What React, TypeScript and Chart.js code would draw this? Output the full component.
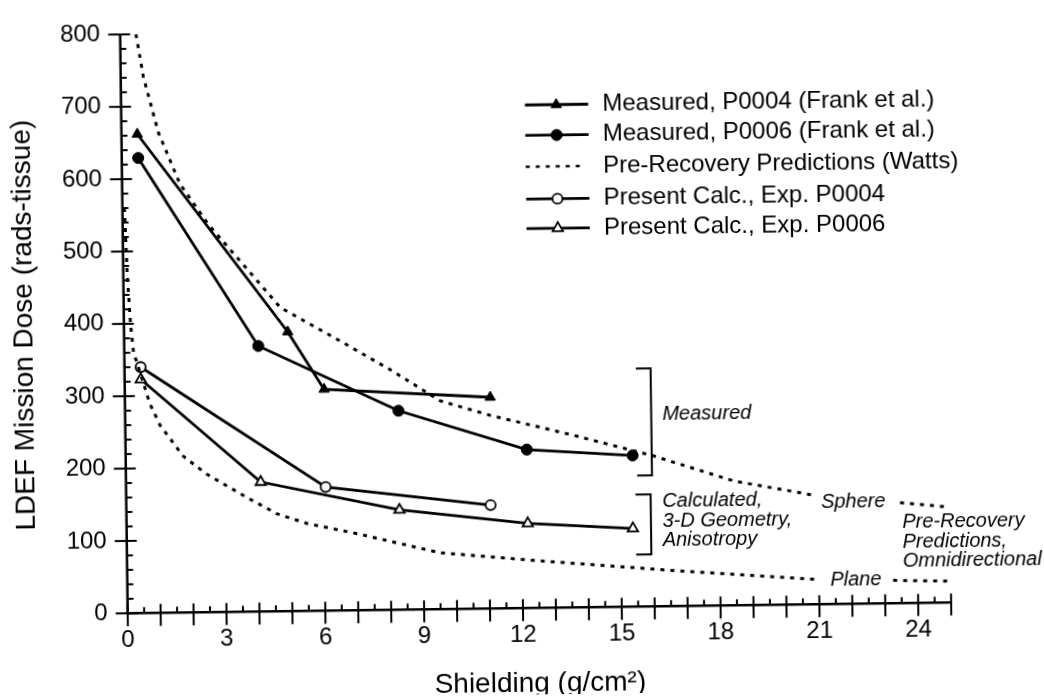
import React, { useEffect, useRef } from 'react';
import { Chart, registerables } from 'chart.js';

Chart.register(...registerables);

// ---- Data ----
const measP0004X = [0.48, 4.97, 6.05, 11.09];
const measP0004Y = [662, 386, 306, 292];

const measP0006X = [0.5, 4.07, 8.3, 12.18, 15.39];
const measP0006Y = [629, 367, 275, 219, 209];

const calcP0004X = [0.49, 6.06, 11.06];
const calcP0004Y = [340, 171, 143];

const calcP0006X = [0.49, 4.09, 8.29, 12.18, 15.37];
const calcP0006Y = [323, 179, 138, 117, 108];

// Pre-recovery predictions (Watts), sphere and plane; null = gap for the curve label
const sphereX = [0.48, 0.69, 1.12, 1.76, 2.6, 3.4, 4.75, 6.35, 8.06, 9.57, 11.08, 13.6, 16.02, 18.44, 20.96, 22.2, 23.49, 24.95];
const sphereY = [800, 741, 664, 592, 536, 493, 420, 378, 332, 288, 267, 238, 208, 172, 150, null, 139, 132];

const planeX = [0.06, 0.12, 0.2, 0.28, 0.76, 1.06, 1.75, 2.45, 3.66, 4.56, 5.47, 7.08, 9.5, 12.54, 16.38, 21.03, 22.2, 23.25, 24.98];
const planeY = [560, 470, 400, 361, 289, 259, 216, 191, 158, 135, 121, 105, 78, 65, 50, 34, null, 31.7, 29.5];

const xTickValues = [0, 3, 6, 9, 12, 15, 18, 21, 24];
const yTickValues = [0, 100, 200, 300, 400, 500, 600, 700, 800];

const legendLabels = [
  'Measured, P0004 (Frank et al.)',
  'Measured, P0006 (Frank et al.)',
  'Pre-Recovery Predictions (Watts)',
  'Present Calc., Exp. P0004',
  'Present Calc., Exp. P0006',
];

const xTitle = 'Shielding (g/cm\u00B2)';
const yTitle = 'LDEF Mission Dose (rads-tissue)';

const measuredNote = 'Measured';
const calculatedNote = ['Calculated,', '3-D Geometry,', 'Anisotropy'];
const sphereNote = 'Sphere';
const planeNote = 'Plane';
const predictionNote = ['Pre-Recovery', 'Predictions,', 'Omnidirectional'];

const FONT = '"Liberation Sans", Arial, Helvetica, sans-serif';

const toPoints = (xs: number[], ys: (number | null)[]) => xs.map((x, i) => ({ x, y: ys[i] }));

function drawTriangle(ctx: CanvasRenderingContext2D, cx: number, cy: number, r: number, filled: boolean) {
  ctx.beginPath();
  for (let k = 0; k < 3; k++) {
    const a = -Math.PI / 2 + (k * 2 * Math.PI) / 3;
    const px = cx + r * Math.cos(a);
    const py = cy + r * Math.sin(a);
    if (k === 0) ctx.moveTo(px, py);
    else ctx.lineTo(px, py);
  }
  ctx.closePath();
  ctx.fillStyle = filled ? '#000' : '#fff';
  ctx.fill();
  ctx.lineWidth = filled ? 1 : 1.8;
  ctx.stroke();
}

function drawCircle(ctx: CanvasRenderingContext2D, cx: number, cy: number, r: number, filled: boolean) {
  ctx.beginPath();
  ctx.arc(cx, cy, r, 0, Math.PI * 2);
  ctx.fillStyle = filled ? '#000' : '#fff';
  ctx.fill();
  ctx.lineWidth = filled ? 1 : 1.8;
  ctx.stroke();
}

const overlayPlugin = {
  id: 'overlay',
  afterDraw(chart: any) {
    const { ctx } = chart;
    const xs = chart.scales.x;
    const ys = chart.scales.y;
    const px = (v: number) => xs.getPixelForValue(v);
    const py = (v: number) => ys.getPixelForValue(v);
    ctx.save();
    ctx.strokeStyle = '#000';
    ctx.fillStyle = '#000';
    ctx.lineCap = 'butt';

    // axes
    ctx.lineWidth = 2.5;
    ctx.beginPath();
    ctx.moveTo(px(0), py(0));
    ctx.lineTo(px(25), py(0));
    ctx.moveTo(px(0), py(0));
    ctx.lineTo(px(0), py(800));
    ctx.stroke();

    // x ticks
    ctx.lineWidth = 2;
    for (let i = 0; i <= 50; i++) {
      const v = i / 2;
      const X = px(v);
      const Y = py(0);
      ctx.beginPath();
      if (i % 2 === 0) {
        ctx.moveTo(X, Y - 9);
        ctx.lineTo(X, Y + 13);
      } else {
        ctx.moveTo(X, Y - 6);
        ctx.lineTo(X, Y);
      }
      ctx.stroke();
    }
    // y ticks
    for (let v = 0; v <= 800; v += 20) {
      const X = px(0);
      const Y = py(v);
      ctx.beginPath();
      if (v % 100 === 0) {
        ctx.moveTo(X - 12, Y);
        ctx.lineTo(X + 10, Y);
      } else {
        ctx.moveTo(X, Y);
        ctx.lineTo(X + 6, Y);
      }
      ctx.stroke();
    }

    // legend
    const lx0 = px(12.26);
    const lx1 = px(14.18);
    const lmx = px(13.21);
    const ltx = px(14.61);
    const rowY = [695.2, 653.2, 609.8, 565, 524.3].map((v) => py(v));
    ctx.font = `24px ${FONT}`;
    ctx.textBaseline = 'middle';
    ctx.textAlign = 'left';
    rowY.forEach((Y, i) => {
      ctx.strokeStyle = '#000';
      if (i === 2) {
        ctx.lineWidth = 2.5;
        ctx.setLineDash([4, 6]);
        ctx.beginPath();
        ctx.moveTo(lx0, Y);
        ctx.lineTo(lx1 - 6, Y);
        ctx.stroke();
        ctx.setLineDash([]);
      } else {
        ctx.lineWidth = 2.8;
        ctx.beginPath();
        ctx.moveTo(lx0, Y);
        ctx.lineTo(lx1, Y);
        ctx.stroke();
        if (i === 0) drawTriangle(ctx, lmx, Y, 6, true);
        if (i === 1) drawCircle(ctx, lmx, Y, 5.5, true);
        if (i === 3) drawCircle(ctx, lmx, Y, 5, false);
        if (i === 4) drawTriangle(ctx, lmx, Y, 6, false);
      }
      ctx.fillStyle = '#000';
      ctx.fillText(legendLabels[i], ltx, Y);
    });

    // brackets
    ctx.strokeStyle = '#000';
    ctx.lineWidth = 2;
    const bracket = (xl: number, xr: number, yt: number, yb: number) => {
      ctx.beginPath();
      ctx.moveTo(px(xl), py(yt));
      ctx.lineTo(px(xr), py(yt));
      ctx.lineTo(px(xr), py(yb));
      ctx.lineTo(px(xl), py(yb));
      ctx.stroke();
    };
    bracket(15.52, 15.97, 329, 181);
    bracket(15.46, 15.92, 155, 72);

    ctx.fillStyle = '#000';
    ctx.font = `italic 20px ${FONT}`;
    ctx.textAlign = 'left';
    ctx.textBaseline = 'middle';
    ctx.fillText(measuredNote, px(16.31), py(265.5));
    [145.5, 117, 91.6].forEach((v, i) => ctx.fillText(calculatedNote[i], px(16.27), py(v)));
    ctx.fillText(sphereNote, px(21.09), py(141.4));
    ctx.fillText(planeNote, px(21.34), py(32.8));
    [111.9, 84.7, 57.6].forEach((v, i) => ctx.fillText(predictionNote[i], px(23.55), py(v)));

    ctx.restore();
  },
};

export default function App() {
  const canvasRef = useRef<HTMLCanvasElement | null>(null);

  useEffect(() => {
    if (!canvasRef.current) return;
    const dotted = {
      borderColor: '#000',
      borderWidth: 3,
      borderDash: [4, 6],
      pointRadius: 0,
      tension: 0,
      spanGaps: false,
      clip: false as any,
    };
    const chart = new Chart(canvasRef.current, {
      type: 'line',
      data: {
        datasets: [
          { label: 'Pre-Recovery Predictions (Watts) - Sphere', data: toPoints(sphereX, sphereY), ...dotted },
          { label: 'Pre-Recovery Predictions (Watts) - Plane', data: toPoints(planeX, planeY), ...dotted },
          {
            label: legendLabels[0],
            data: toPoints(measP0004X, measP0004Y),
            borderColor: '#000',
            borderWidth: 2.8,
            pointStyle: 'triangle',
            pointRadius: 6,
            pointBackgroundColor: '#000',
            pointBorderColor: '#000',
            pointBorderWidth: 1,
            tension: 0,
            clip: false as any,
          },
          {
            label: legendLabels[1],
            data: toPoints(measP0006X, measP0006Y),
            borderColor: '#000',
            borderWidth: 2.8,
            pointStyle: 'circle',
            pointRadius: 5.5,
            pointBackgroundColor: '#000',
            pointBorderColor: '#000',
            pointBorderWidth: 1,
            tension: 0,
            clip: false as any,
          },
          {
            label: legendLabels[3],
            data: toPoints(calcP0004X, calcP0004Y),
            borderColor: '#000',
            borderWidth: 2.8,
            pointStyle: 'circle',
            pointRadius: 5,
            pointBackgroundColor: '#fff',
            pointBorderColor: '#000',
            pointBorderWidth: 1.8,
            tension: 0,
            clip: false as any,
          },
          {
            label: legendLabels[4],
            data: toPoints(calcP0006X, calcP0006Y),
            borderColor: '#000',
            borderWidth: 2.8,
            pointStyle: 'triangle',
            pointRadius: 6,
            pointBackgroundColor: '#fff',
            pointBorderColor: '#000',
            pointBorderWidth: 1.8,
            tension: 0,
            clip: false as any,
          },
        ],
      },
      options: {
        responsive: false,
        maintainAspectRatio: false,
        animation: false,
        layout: { padding: { left: 0, right: 92.8, top: 23.3, bottom: 0 } },
        plugins: { legend: { display: false }, tooltip: { enabled: false } },
        scales: {
          x: {
            type: 'linear',
            min: 0,
            max: 25,
            grid: { display: false, drawTicks: false },
            border: { display: false },
            afterBuildTicks: (s: any) => {
              s.ticks = xTickValues.map((v) => ({ value: v }));
            },
            afterFit: (s: any) => {
              s.height = 86.7;
            },
            ticks: {
              padding: 13,
              color: '#000',
              font: { family: FONT, size: 24 },
              maxRotation: 0,
              autoSkip: false,
              callback: (v: any) => String(v),
            },
            title: {
              display: true,
              text: xTitle,
              color: '#000',
              font: { family: FONT, size: 28, lineHeight: 0.8 },
              padding: { top: 0, bottom: 0 },
            },
          },
          y: {
            type: 'linear',
            min: 0,
            max: 800,
            grid: { display: false, drawTicks: false },
            border: { display: false },
            afterBuildTicks: (s: any) => {
              s.ticks = yTickValues.map((v) => ({ value: v }));
            },
            afterFit: (s: any) => {
              s.width = 127.7;
            },
            ticks: {
              padding: 20,
              color: '#000',
              font: { family: FONT, size: 24 },
              autoSkip: false,
              callback: (v: any) => String(v),
            },
            title: {
              display: true,
              text: yTitle,
              color: '#000',
              font: { family: FONT, size: 28 },
              padding: { top: 11, bottom: 0 },
            },
          },
        },
      },
      plugins: [overlayPlugin],
    } as any);
    return () => chart.destroy();
  }, []);

  return (
    <div style={{ position: 'absolute', left: 0, top: 0, width: 1044, height: 700, background: '#fff' }}>
      <canvas
        ref={canvasRef}
        width={1044}
        height={700}
        style={{
          width: 1044,
          height: 700,
          transform: 'rotate(-0.75deg)',
          transformOrigin: '127.7px 613.3px',
        }}
      />
    </div>
  );
}
